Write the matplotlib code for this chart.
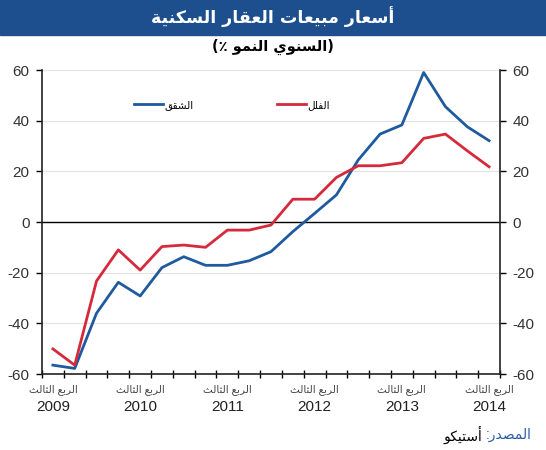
import matplotlib
matplotlib.use('Agg')
import matplotlib.pyplot as plt
import numpy as np
from matplotlib.lines import Line2D
from matplotlib.patches import Rectangle

plt.rcParams['font.family'] = ['Liberation Sans', 'DejaVu Sans']
plt.rcParams['axes.unicode_minus'] = False

# data: year-on-year % change, quarterly Q3 2009 .. Q3 2014
apartments = [-56.5, -57.8, -36, -23.8, -29.2, -18, -13.7, -17.1, -17.1, -15.3, -11.7,
              -3.8, 3.4, 10.7, 24.5, 34.7, 38.3, 59, 45.5, 37.6, 32.1]
villas = [-50.1, -56.5, -23.3, -11, -19, -9.7, -9.1, -10, -3.2, -3.2, -1.2,
          9, 9, 17.6, 22.2, 22.2, 23.4, 33, 34.7, 28.1, 21.8]
years = ['2009', '2010', '2011', '2012', '2013', '2014']
yticks = [-60, -40, -20, 0, 20, 40, 60]

title = 'أسعار مبيعات العقار السكنية'
quarter_lbl = 'الربع الثالث'
name_apts = 'الشقق'
name_villas = 'الفلل'
src_lbl = 'المصدر'
src_name = 'أستيكو'

# minimal arabic shaping (presentation forms), since matplotlib has no bidi
FORMS = {
    'ا': ('\uFE8D', '\uFE8E', None, None),
    'أ': ('\uFE83', '\uFE84', None, None),
    'ب': ('\uFE8F', '\uFE90', '\uFE91', '\uFE92'),
    'ت': ('\uFE95', '\uFE96', '\uFE97', '\uFE98'),
    'ة': ('\uFE93', '\uFE94', None, None),
    'ث': ('\uFE99', '\uFE9A', '\uFE9B', '\uFE9C'),
    'د': ('\uFEA9', '\uFEAA', None, None),
    'ر': ('\uFEAD', '\uFEAE', None, None),
    'س': ('\uFEB1', '\uFEB2', '\uFEB3', '\uFEB4'),
    'ش': ('\uFEB5', '\uFEB6', '\uFEB7', '\uFEB8'),
    'ص': ('\uFEB9', '\uFEBA', '\uFEBB', '\uFEBC'),
    'ع': ('\uFEC9', '\uFECA', '\uFECB', '\uFECC'),
    'ف': ('\uFED1', '\uFED2', '\uFED3', '\uFED4'),
    'ق': ('\uFED5', '\uFED6', '\uFED7', '\uFED8'),
    'ك': ('\uFED9', '\uFEDA', '\uFEDB', '\uFEDC'),
    'ل': ('\uFEDD', '\uFEDE', '\uFEDF', '\uFEE0'),
    'م': ('\uFEE1', '\uFEE2', '\uFEE3', '\uFEE4'),
    'ن': ('\uFEE5', '\uFEE6', '\uFEE7', '\uFEE8'),
    'و': ('\uFEED', '\uFEEE', None, None),
    'ي': ('\uFEF1', '\uFEF2', '\uFEF3', '\uFEF4'),
}


def ar(s):
    out = []
    for i, c in enumerate(s):
        if c not in FORMS:
            out.append(c)
            continue
        prev = s[i - 1] if i > 0 else ''
        nxt = s[i + 1] if i + 1 < len(s) else ''
        jp = prev in FORMS and FORMS[prev][2] is not None
        jn = FORMS[c][2] is not None and nxt in FORMS
        f = FORMS[c]
        if jp and jn:
            out.append(f[3])
        elif jp:
            out.append(f[1])
        elif jn:
            out.append(f[2])
        else:
            out.append(f[0])
    return ''.join(out)[::-1]


W, H = 546, 450
fig = plt.figure(figsize=(W / 100, H / 100), dpi=100)

# title banner
fig.add_artist(Rectangle((0, 1 - 35 / H), 1, 35 / H, transform=fig.transFigure,
                         color='#1d4f8f', zorder=0))
fig.text(0.5, 1 - 17 / H, ar(title), color='white', fontsize=12.5, fontweight='bold',
         ha='center', va='center', family=['DejaVu Sans'])
fig.text(0.5, 1 - 47 / H, '(٪ ' + ar('النمو') + ' ' + ar('السنوي') + ')', fontsize=10.5,
         fontweight='bold', ha='center', va='center', family=['DejaVu Sans'])

ax = fig.add_axes([42 / W, 1 - 374 / H, 458 / W, 304 / H])
x = np.arange(len(apartments))
ax.plot(x, apartments, color='#1f5a9e', lw=2.0)
ax.plot(x, villas, color='#d42a3c', lw=2.0)
ax.axhline(0, color='black', lw=1.0, zorder=1)

ax.set_xlim(-0.5, len(apartments) - 0.5)
ax.set_ylim(-60, 60)
ax.set_yticks(yticks)
ax.yaxis.grid(True, color='#e2e2e2', lw=0.8)
ax.set_axisbelow(True)
ax.spines['top'].set_visible(False)
for s in ['left', 'right', 'bottom']:
    ax.spines[s].set_linewidth(1.2)
    ax.spines[s].set_color('#222222')

ax.set_xticks(np.arange(-0.5, len(apartments), 1))
ax.set_xticklabels([])
ax.tick_params(axis='x', direction='inout', length=6, width=1)
ax.tick_params(axis='y', direction='out', length=4, width=1, right=True,
               labelright=True, labelsize=11, labelcolor='#333333', pad=5)

for i, yr in enumerate(years):
    ax.text(i * 4, -0.05, ar(quarter_lbl), transform=ax.get_xaxis_transform(),
            ha='center', va='center', fontsize=7.5, color='#444444')
    ax.text(i * 4, -0.11, yr, transform=ax.get_xaxis_transform(),
            ha='center', va='center', fontsize=11, color='#222222')

handles = [Line2D([], [], color='#1f5a9e', lw=2.0), Line2D([], [], color='#d42a3c', lw=2.0)]
ax.legend(handles, [ar(name_apts), ar(name_villas)], ncol=2, frameon=False,
          loc='center left', bbox_to_anchor=(0.18, 0.885), handlelength=2.8,
          handletextpad=0.15, columnspacing=8.0, prop={'size': 7.5})

src = fig.text(532 / W, 1 - 435 / H, ':' + ar(src_lbl), color='#2a5caa', fontsize=10,
               ha='right', va='center')
ax.annotate(ar(src_name) + ' ', xy=(0, 0.5), xycoords=src, ha='right', va='center',
            fontsize=10, color='black')

fig.savefig('out.png', dpi=100)
